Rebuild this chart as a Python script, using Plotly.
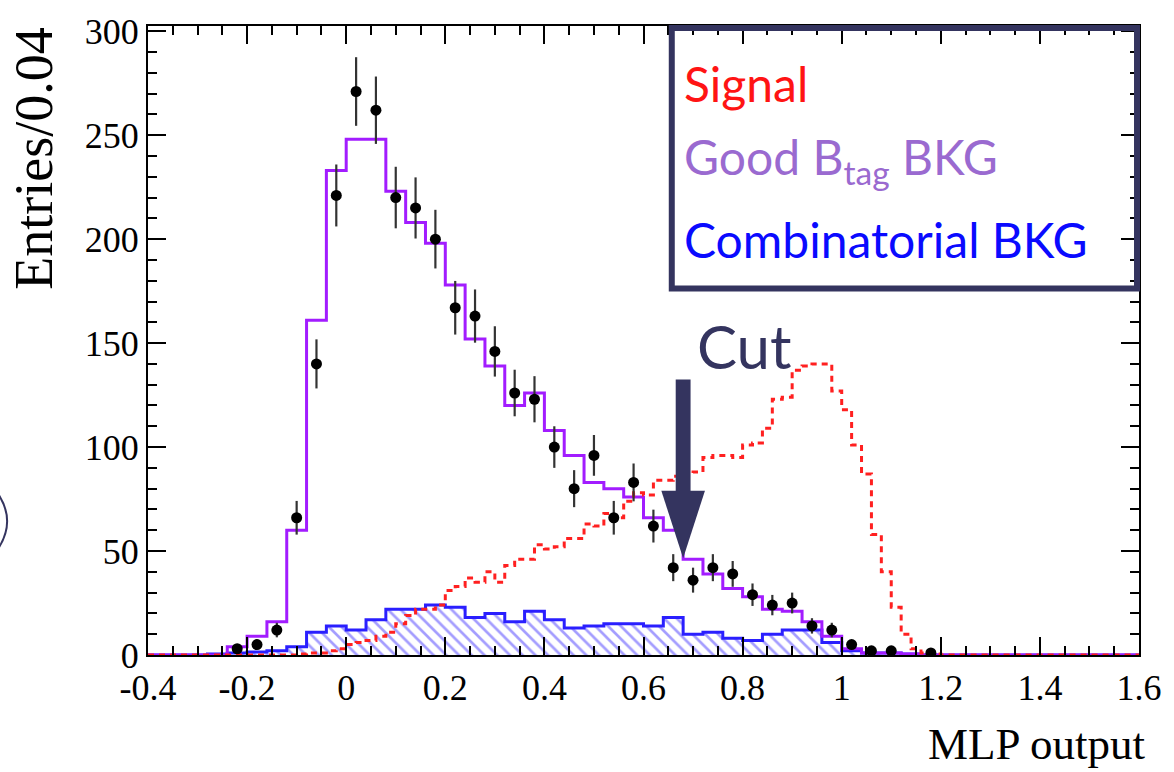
import numpy as np
import plotly.graph_objects as go

# ---- histogram binning ----
X_MIN, X_MAX = -0.4, 1.6
BKG_BIN = 0.04          # background / data binning
SIG_BIN = 0.02          # signal template binning

# Good B_tag background (total MC), 0.04 bins starting at -0.40
good_btag_bkg = [0, 0, 0, 0, 4, 9, 16, 60, 161, 233,
                 248, 248, 223, 208, 198, 178, 152, 139, 120, 126,
                 108, 96, 83, 80, 76, 66, 60, 46, 39, 32,
                 28, 22, 21, 16, 9, 3, 1, 1, 0.5, 0,
                 0, 0, 0, 0, 0, 0, 0, 0, 0, 0]

# Combinatorial background, 0.04 bins starting at -0.40
combinatorial_bkg = [0, 0, 0, 0.5, 1, 1.5, 2, 4, 11, 14,
                     12, 17, 22, 22, 24, 23, 18, 20, 16, 21,
                     17, 13, 14, 15, 15, 14, 18, 10, 11, 8,
                     7, 10, 12, 12, 6, 2, 1, 1, 0.5, 0,
                     0, 0, 0, 0, 0, 0, 0, 0, 0, 0]

# Signal template, 0.02 bins starting at -0.40
signal = ([0] * 15 +
          [0.5, 1, 1, 2, 3,
           5, 6, 7, 9, 11, 15, 19, 22, 22, 24,
           31, 33, 37, 35, 40, 35, 43, 46, 46, 53,
           51, 52, 56, 56, 63, 62, 68, 66, 74, 78,
           77, 84, 84, 86, 87, 88, 95, 96, 96, 95,
           101, 102, 109, 123, 124, 137, 139, 140, 140, 127,
           118, 101, 87, 58, 40, 23, 10, 3, 1, 0.5] +
          [0] * 20)

# Data points (bin centres, entries, Poisson errors)
data_x = [-0.22, -0.18, -0.14, -0.10, -0.06, -0.02, 0.02, 0.06, 0.10, 0.14,
          0.18, 0.22, 0.26, 0.30, 0.34, 0.38, 0.42, 0.46, 0.50, 0.54,
          0.58, 0.62, 0.66, 0.70, 0.74, 0.78, 0.82, 0.86, 0.90, 0.94,
          0.98, 1.02, 1.06, 1.10, 1.18]
data_y = [3, 5, 12, 66, 140, 221, 271, 262, 220, 215,
          200, 167, 163, 146, 126, 123, 100, 80, 96, 66,
          83, 62, 42, 36, 42, 39, 29, 24, 25, 14,
          12, 5, 2, 2, 1]
data_err = [1.7, 2.2, 3.5, 8.1, 11.8, 14.9, 16.5, 16.2, 14.8, 14.7,
            14.1, 12.9, 12.8, 12.1, 11.2, 11.1, 10.0, 8.9, 9.8, 8.1,
            9.1, 7.9, 6.5, 6.0, 6.5, 6.2, 5.4, 4.9, 5.0, 3.7,
            3.5, 2.2, 1.4, 1.4, 1.0]

CUT = 0.68

x_tick_vals = [-0.4, -0.2, 0, 0.2, 0.4, 0.6, 0.8, 1.0, 1.2, 1.4, 1.6]
x_tick_text = ["-0.4", "-0.2", "0", "0.2", "0.4", "0.6", "0.8", "1", "1.2", "1.4", "1.6"]
y_tick_vals = [0, 50, 100, 150, 200, 250, 300]
y_tick_text = ["0", "50", "100", "150", "200", "250", "300"]


def step_xy(values, width):
    """Edges/heights for a ROOT-style outline histogram drawn with hv steps."""
    vals = np.asarray(values, dtype=float)
    edges = X_MIN + width * np.arange(len(vals) + 1)
    return edges, np.append(vals, vals[-1])


# ---- page geometry (pixels) ----
W, H = 1174, 772
L, R, T, B = 148, 1147, 20, 655


def px(xp):
    return (xp - L) / (R - L)


def py(yp):
    return (B - yp) / (B - T)


fig = go.Figure()

cx, cy = step_xy(combinatorial_bkg, BKG_BIN)
fig.add_trace(go.Scatter(
    x=cx, y=cy, mode="lines", line=dict(shape="hv", color="#2a1fff", width=3),
    fill="tozeroy", fillcolor="rgba(0,0,0,0)",
    fillpattern=dict(shape="\\", fgcolor="#4a3cff", bgcolor="rgba(0,0,0,0)",
                     size=9, solidity=0.3),
    hoverinfo="skip", showlegend=False))

gx, gy = step_xy(good_btag_bkg, BKG_BIN)
fig.add_trace(go.Scatter(
    x=gx, y=gy, mode="lines", line=dict(shape="hv", color="#a21cff", width=3),
    hoverinfo="skip", showlegend=False))

sx, sy = step_xy(signal, SIG_BIN)
fig.add_trace(go.Scatter(
    x=sx, y=sy, mode="lines",
    line=dict(shape="hv", color="#ff2020", width=3, dash="6px,5px"),
    hoverinfo="skip", showlegend=False))

fig.add_trace(go.Scatter(
    x=data_x, y=data_y, mode="markers",
    marker=dict(size=11, color="black"),
    error_y=dict(type="data", array=data_err, visible=True,
                 thickness=2.2, width=0, color="#333333"),
    hoverinfo="skip", showlegend=False))

navy = "#34345f"

# cut arrow: shaft + head in data coordinates
fig.add_shape(type="rect", xref="x", yref="y",
              x0=CUT - 0.015, x1=CUT + 0.015, y0=78, y1=132.5,
              fillcolor=navy, line=dict(width=0))
fig.add_shape(type="path", xref="x", yref="y",
              path=f"M {CUT - 0.044},79 L {CUT + 0.044},79 L {CUT},46.5 Z",
              fillcolor=navy, line=dict(width=0))

# legend box
fig.add_shape(type="rect", xref="paper", yref="paper",
              x0=px(676), x1=px(1145), y0=py(285), y1=py(22),
              line=dict(color=navy, width=6), fillcolor="rgba(0,0,0,0)")

# edge of an outlined ellipse peeking in at the left border
fig.add_shape(type="path", xref="paper", yref="paper",
              path=(f"M {px(-2)},{py(494)} Q {px(14)},{py(520)} {px(-2)},{py(546)}"),
              line=dict(color=navy, width=2))

legend_font = "Lato"
annotations = [
    dict(text="Signal", x=px(686), y=py(78), xanchor="left", yanchor="middle",
         font=dict(family=legend_font, size=48, color="#ff1414")),
    dict(text="Good B<sub>tag</sub> BKG", x=px(686), y=py(155), xanchor="left", yanchor="middle",
         font=dict(family=legend_font, size=48, color="#9a6ad0")),
    dict(text="Combinatorial BKG", x=px(686), y=py(236), xanchor="left", yanchor="middle",
         font=dict(family=legend_font, size=48, color="#0a0aff")),
    dict(text="Cut", x=px(749), y=py(343), xanchor="center", yanchor="middle",
         font=dict(family=legend_font, size=60, color=navy)),
    dict(text="MLP output", x=px(1156), y=py(745), xanchor="right", yanchor="middle",
         font=dict(family="Liberation Serif", size=45, color="black")),
    dict(text="Entries/0.04", x=px(33), y=py(154), xanchor="center", yanchor="middle",
         textangle=-90,
         font=dict(family="Liberation Serif", size=54, color="black")),
]
for a in annotations:
    a.update(xref="paper", yref="paper", showarrow=False)
fig.update_layout(annotations=annotations)

fig.update_layout(
    width=W, height=H,
    margin=dict(l=L, r=W - R, t=T, b=H - B, pad=0),
    paper_bgcolor="white", plot_bgcolor="white",
    font=dict(family="Liberation Serif", size=36, color="black"),
    xaxis=dict(range=[X_MIN, X_MAX], tickvals=x_tick_vals, ticktext=x_tick_text,
               ticks="inside", ticklen=18, tickwidth=1.5, tickcolor="black",
               minor=dict(dtick=0.05, tick0=0, ticks="inside", ticklen=9,
                          tickwidth=1.5, tickcolor="black", showgrid=False),
               showline=True, linecolor="black", linewidth=2, mirror="ticks",
               showgrid=False, zeroline=False,
               tickfont=dict(family="Liberation Serif", size=36)),
    yaxis=dict(range=[0, 302.5], tickvals=y_tick_vals, ticktext=y_tick_text,
               ticks="inside", ticklen=18, tickwidth=1.5, tickcolor="black",
               minor=dict(dtick=10, tick0=0, ticks="inside", ticklen=9,
                          tickwidth=1.5, tickcolor="black", showgrid=False),
               showline=True, linecolor="black", linewidth=2, mirror="ticks",
               showgrid=False, zeroline=False,
               tickfont=dict(family="Liberation Serif", size=36)),
)

fig.write_html("out.html")
